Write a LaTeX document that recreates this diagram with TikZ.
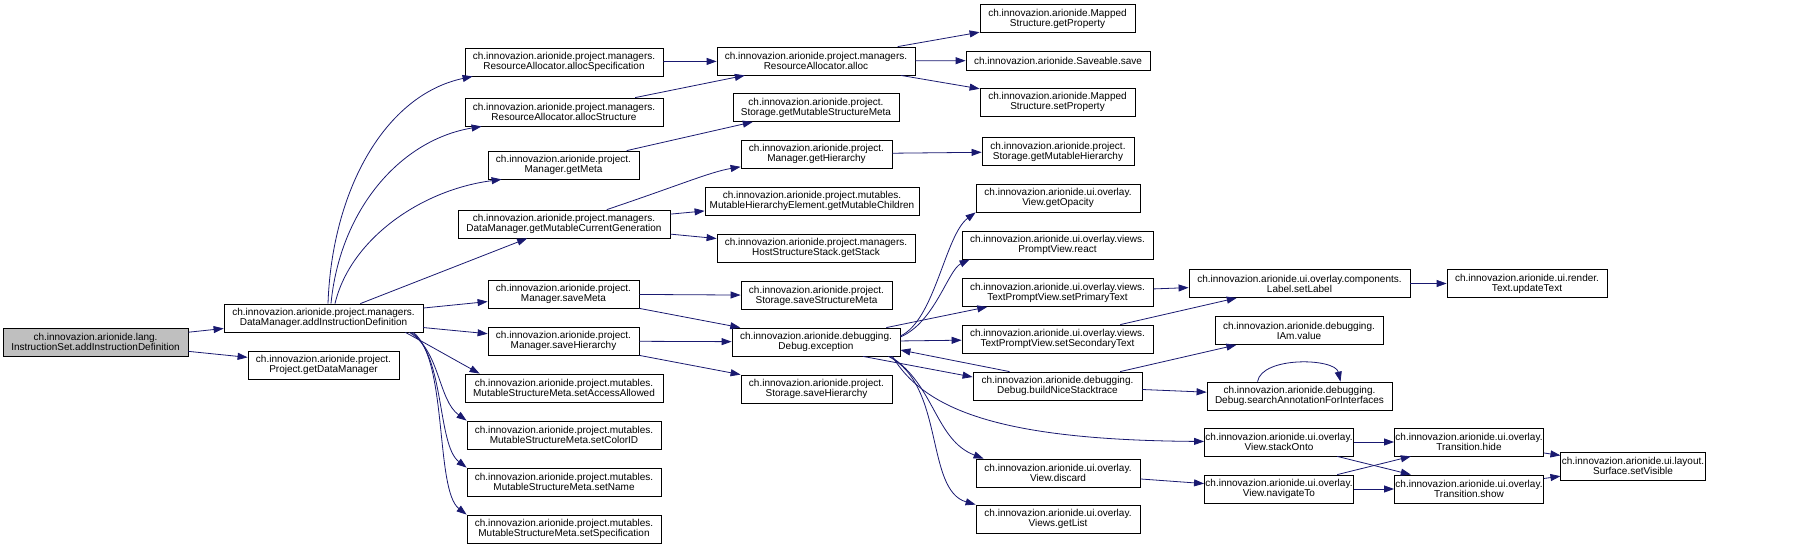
\documentclass[tikz,border=0pt]{standalone}
\usepackage{fontspec}
\setmainfont{Liberation Sans}
\usetikzlibrary{arrows.meta}
\definecolor{edgeblue}{HTML}{191970}
\definecolor{rootgray}{HTML}{BFBFBF}
\begin{document}
\begin{tikzpicture}[x=1pt,y=-1pt,>={Triangle[length=10pt,width=7pt]}]
\tikzstyle{fn}=[draw=black, fill=white, line width=0.8pt, inner sep=1pt, align=center, minimum height=28pt, font=\fontsize{10}{10}\selectfont]
\tikzstyle{call}=[->, draw=edgeblue, line width=0.8pt]
\useasboundingbox (0,0) rectangle (1807,548);

% root and first column
\node[fn, fill=rootgray, minimum width=185pt] (isadd) at (95.5,342) {ch.innovazion.arionide.lang.\\InstructionSet.addInstructionDefinition};
\node[fn, minimum width=199pt] (dmadd) at (323.5,318) {ch.innovazion.arionide.project.managers.\\DataManager.addInstructionDefinition};
\node[fn, minimum width=151pt] (getdm) at (323.5,365) {ch.innovazion.arionide.project.\\Project.getDataManager};

% second column
\node[fn, minimum width=198pt] (allocspec) at (564,62) {ch.innovazion.arionide.project.managers.\\ResourceAllocator.allocSpecification};
\node[fn, minimum width=198pt] (allocstruct) at (564,112) {ch.innovazion.arionide.project.managers.\\ResourceAllocator.allocStructure};
\node[fn, minimum width=151pt] (getmeta) at (563.5,165) {ch.innovazion.arionide.project.\\Manager.getMeta};
\node[fn, minimum width=212pt] (getmcg) at (564,224) {ch.innovazion.arionide.project.managers.\\DataManager.getMutableCurrentGeneration};
\node[fn, minimum width=151pt] (savemeta) at (563.5,294) {ch.innovazion.arionide.project.\\Manager.saveMeta};
\node[fn, minimum width=151pt] (savehier) at (563.5,341) {ch.innovazion.arionide.project.\\Manager.saveHierarchy};
\node[fn, minimum width=198pt] (setaccess) at (564,388) {ch.innovazion.arionide.project.mutables.\\MutableStructureMeta.setAccessAllowed};
\node[fn, minimum width=194pt] (setcolor) at (564,435) {ch.innovazion.arionide.project.mutables.\\MutableStructureMeta.setColorID};
\node[fn, minimum width=194pt] (setname) at (564,482) {ch.innovazion.arionide.project.mutables.\\MutableStructureMeta.setName};
\node[fn, minimum width=194pt] (setspec) at (564,529) {ch.innovazion.arionide.project.mutables.\\MutableStructureMeta.setSpecification};

% third column
\node[fn, minimum width=198pt] (alloc) at (816,61) {ch.innovazion.arionide.project.managers.\\ResourceAllocator.alloc};
\node[fn, minimum width=166pt] (getmsm) at (816,107.5) {ch.innovazion.arionide.project.\\Storage.getMutableStructureMeta};
\node[fn, minimum width=151pt] (gethier) at (816.5,154) {ch.innovazion.arionide.project.\\Manager.getHierarchy};
\node[fn, minimum width=214pt] (getchildren) at (812,201) {ch.innovazion.arionide.project.mutables.\\MutableHierarchyElement.getMutableChildren};
\node[fn, minimum width=198pt] (getstack) at (816,248) {ch.innovazion.arionide.project.managers.\\HostStructureStack.getStack};
\node[fn, minimum width=151pt] (savesm) at (816.5,295.5) {ch.innovazion.arionide.project.\\Storage.saveStructureMeta};
\node[fn, minimum width=168pt] (exception) at (816,342) {ch.innovazion.arionide.debugging.\\Debug.exception};
\node[fn, minimum width=151pt] (savehierst) at (816.5,389) {ch.innovazion.arionide.project.\\Storage.saveHierarchy};

% fourth column
\node[fn, minimum width=155pt] (getprop) at (1057.5,18.5) {ch.innovazion.arionide.Mapped\\Structure.getProperty};
\node[fn, minimum width=184pt, minimum height=19pt] (saveable) at (1058,60.5) {ch.innovazion.arionide.Saveable.save};
\node[fn, minimum width=155pt] (setprop) at (1057.5,102) {ch.innovazion.arionide.Mapped\\Structure.setProperty};
\node[fn, minimum width=152pt] (getmh) at (1058,151.5) {ch.innovazion.arionide.project.\\Storage.getMutableHierarchy};
\node[fn, minimum width=164pt] (getopacity) at (1058,198) {ch.innovazion.arionide.ui.overlay.\\View.getOpacity};
\node[fn, minimum width=191pt] (react) at (1057.5,245) {ch.innovazion.arionide.ui.overlay.views.\\PromptView.react};
\node[fn, minimum width=191pt] (setprimary) at (1057.5,292.5) {ch.innovazion.arionide.ui.overlay.views.\\TextPromptView.setPrimaryText};
\node[fn, minimum width=191pt] (setsecondary) at (1057.5,339) {ch.innovazion.arionide.ui.overlay.views.\\TextPromptView.setSecondaryText};
\node[fn, minimum width=169pt] (buildst) at (1057.5,386) {ch.innovazion.arionide.debugging.\\Debug.buildNiceStacktrace};
\node[fn, minimum width=164pt] (discard) at (1058,473) {ch.innovazion.arionide.ui.overlay.\\View.discard};
\node[fn, minimum width=164pt] (getlist) at (1058,519) {ch.innovazion.arionide.ui.overlay.\\Views.getList};

% fifth column and beyond
\node[fn, minimum width=221pt] (setlabel) at (1299.5,283.5) {ch.innovazion.arionide.ui.overlay.components.\\Label.setLabel};
\node[fn, minimum width=168pt] (iamvalue) at (1299,330.5) {ch.innovazion.arionide.debugging.\\IAm.value};
\node[fn, minimum width=185pt] (searchann) at (1299.5,396) {ch.innovazion.arionide.debugging.\\Debug.searchAnnotationForInterfaces};
\node[fn, minimum width=136pt] (stackonto) at (1279,442) {ch.innovazion.arionide.ui.overlay.\\View.stackOnto};
\node[fn, minimum width=136pt] (navigateto) at (1279,489) {ch.innovazion.arionide.ui.overlay.\\View.navigateTo};
\node[fn, minimum width=160pt] (updatetext) at (1527,283.5) {ch.innovazion.arionide.ui.render.\\Text.updateText};
\node[fn, minimum width=136pt] (trhide) at (1469,442) {ch.innovazion.arionide.ui.overlay.\\Transition.hide};
\node[fn, minimum width=136pt] (trshow) at (1469,489) {ch.innovazion.arionide.ui.overlay.\\Transition.show};
\node[fn, minimum width=132pt] (setvisible) at (1633,466) {ch.innovazion.arionide.ui.layout.\\Surface.setVisible};

% calls from the root
\draw[call] (isadd) -- (dmadd);
\draw[call] (isadd) -- (getdm);

% calls from DataManager.addInstructionDefinition
\draw[call] ([xshift=4.5pt]dmadd.north) .. controls (332,190) and (385,95) .. ([xshift=8pt]allocspec.south west);
\draw[call] ([xshift=7.5pt]dmadd.north) .. controls (340,210) and (400,140) .. ([xshift=17pt]allocstruct.south west);
\draw[call] ([xshift=11.5pt]dmadd.north) .. controls (350,240) and (420,190) .. ([xshift=14pt]getmeta.south west);
\draw[call] (dmadd) -- (getmcg);
\draw[call] (dmadd) -- (savemeta);
\draw[call] (dmadd) -- (savehier);
\draw[call] ([xshift=-18pt]dmadd.south east) .. controls (425,343) and (455,360) .. ([xshift=15pt]setaccess.north west);
\draw[call] ([xshift=-14pt]dmadd.south east) .. controls (440,350) and (438,400) .. (setcolor.north west);
\draw[call] ([xshift=-12pt]dmadd.south east) .. controls (445,355) and (437,445) .. (setname.north west);
\draw[call] ([xshift=-10pt]dmadd.south east) .. controls (448,360) and (435,490) .. (setspec.north west);

% second column calls
\draw[call] (allocspec) -- (alloc);
\draw[call] (allocstruct) -- (alloc);
\draw[call] (getmeta) -- (getmsm);
\draw[call] (getmcg) .. controls (680,185) and (710,172) .. (gethier);
\draw[call] (getmcg) -- (getchildren);
\draw[call] (getmcg) -- (getstack);
\draw[call] (savemeta) -- (savesm);
\draw[call] (savemeta) -- (exception);
\draw[call] (savehier) -- (exception);
\draw[call] (savehier) -- (savehierst);

% third column calls
\draw[call] (alloc) -- (getprop);
\draw[call] (alloc) -- (saveable);
\draw[call] (alloc) -- (setprop);
\draw[call] (gethier) -- (getmh);
\draw[call] ([yshift=6pt]exception.east) .. controls (935,320) and (945,235) .. (getopacity.south west);
\draw[call] ([yshift=5pt]exception.east) .. controls (935,322) and (948,270) .. ([xshift=8pt]react.south west);
\draw[call] (exception) -- (setprimary);
\draw[call] (exception) -- (setsecondary);
\draw[call] ([xshift=47pt]exception.south) -- ([yshift=9pt]buildst.west);
\draw[call] ([xshift=-8pt]exception.south east) .. controls (925,410) and (1000,440) .. (stackonto);
\draw[call] ([xshift=-10pt]exception.south east) .. controls (935,385) and (935,440) .. ([xshift=8pt]discard.north west);
\draw[call] ([xshift=-12pt]exception.south east) .. controls (945,385) and (925,490) .. (getlist.north west);

% fourth column calls
\draw[call] ([xshift=-48pt]buildst.north) -- ([yshift=-8pt]exception.east);
\draw[call] (buildst) -- (iamvalue);
\draw[call] (buildst) -- (searchann);
\draw[call] ([xshift=-42pt]searchann.north) .. controls (1262,356) and (1335,358) .. ([xshift=41pt]searchann.north);
\draw[call] (setprimary) -- (setlabel);
\draw[call] (setsecondary) -- (setlabel);
\draw[call] (discard) -- (navigateto);

% remaining calls
\draw[call] (setlabel) -- (updatetext);
\draw[call] (stackonto) -- (trhide);
\draw[call] (stackonto) -- (trshow);
\draw[call] (navigateto) -- (trhide);
\draw[call] (navigateto) -- (trshow);
\draw[call] (trhide) -- (setvisible);
\draw[call] (trshow) -- (setvisible);
\end{tikzpicture}
\end{document}
